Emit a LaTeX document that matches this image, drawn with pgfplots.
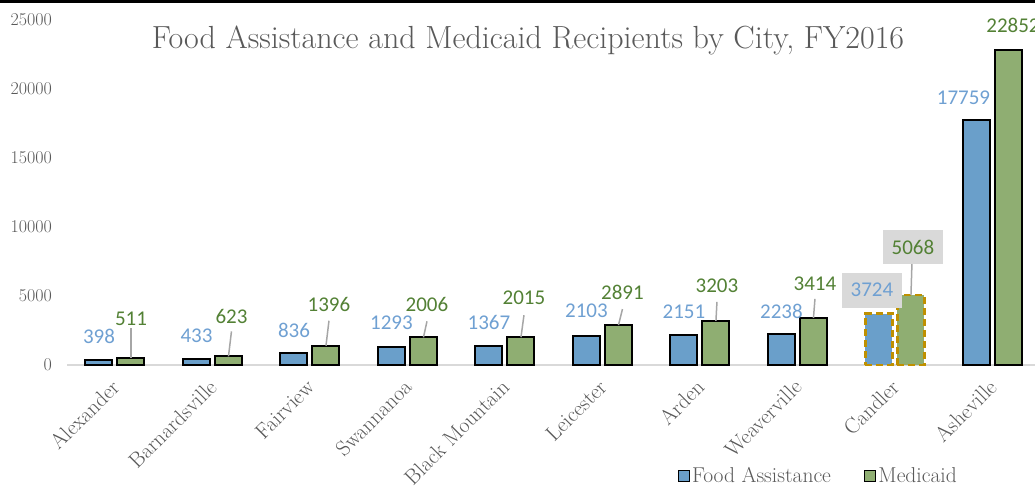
\documentclass[border=0pt]{standalone}
\usepackage{fontspec}
\usepackage{pgfplots}
\pgfplotsset{compat=1.18}
\newfontfamily\labfont{Carlito}

\definecolor{barblue}{HTML}{6A9FCA}
\definecolor{bargreen}{HTML}{8FAE72}
\definecolor{txtblue}{HTML}{6FA0D2}
\definecolor{txtgreen}{HTML}{538135}
\definecolor{txtgray}{HTML}{595959}
\definecolor{gold}{HTML}{BF9000}
\definecolor{boxgray}{HTML}{D9D9D9}
\definecolor{leader}{HTML}{A6A6A6}

% blue label: x, value, dx, dy (dy = label centre above bar top)
\newcommand{\blab}[4]{\node[text=txtblue, font=\labfont\fontsize{21}{21}\selectfont, xshift=-16pt+#3pt, yshift=#4pt] at (axis cs:#1,#2) {#2};}
% green label with leader: x, value, dx, dy, leader length
\newcommand{\glab}[5]{%
  \node[text=txtgreen, font=\labfont\fontsize{21}{21}\selectfont, xshift=16pt+#3pt, yshift=#4pt] at (axis cs:#1,#2) {#2};
  \draw[leader, line width=1.5pt] ([xshift=16pt]axis cs:#1,#2) -- ([xshift=16pt+#3pt, yshift=#5pt]axis cs:#1,#2);}
% category label, rotated
\newcommand{\cat}[2]{\node[rotate=45, anchor=east, inner sep=0pt, text=txtgray, font=\fontsize{21.5}{21.5}\selectfont] at ([xshift=0.5pt, yshift=-18.5pt]axis cs:#1,0) {#2};}

\begin{document}
\begin{tikzpicture}
\useasboundingbox (0,0) rectangle (1035pt,487pt);
\clip (0,0) rectangle (1035pt,487pt);
\begin{axis}[
    at={(67.2pt,122pt)}, anchor=south west,
    scale only axis, width=974pt, height=345pt,
    xmin=-0.49, xmax=9.5, ymin=0, ymax=25000,
    clip=false,
    axis x line*=bottom, axis y line*=left,
    axis line style={-},
    x axis line style={draw=gray!30, line width=2pt},
    y axis line style={draw=none},
    major tick length=0pt,
    scaled y ticks=false,
    xtick=\empty,
    ytick={0,5000,10000,15000,20000,25000},
    yticklabels={0,5000,10000,15000,20000,25000},
    yticklabel style={font=\fontsize{18}{18}\selectfont, text=txtgray, anchor=east, inner sep=0pt, xshift=-15pt},
    ybar, bar width=27pt,
    legend columns=2,
    legend style={at={(0.771,-0.322)}, anchor=center, draw=none, fill=none,
        font=\fontsize{21.5}{21.5}\selectfont, text=txtgray,
        /tikz/every odd column/.append style={column sep=0pt},
        /tikz/every even column/.append style={column sep=31pt}},
    legend image code/.code={\draw[#1, draw=black, line width=1.5pt, solid] (0pt,-5.5pt) rectangle (11pt,5.5pt);},
]
\addplot[bar shift=-16pt, fill=barblue, draw=black, line width=2pt] coordinates {
    (0,398) (1,433) (2,836) (3,1293) (4,1367) (5,2103) (6,2151) (7,2238) (9,17759)};
\addplot[bar shift=16pt, fill=bargreen, draw=black, line width=2pt] coordinates {
    (0,511) (1,623) (2,1396) (3,2006) (4,2015) (5,2891) (6,3203) (7,3414) (9,22852)};
\addplot[forget plot, bar shift=-16pt, fill=barblue, draw=gold, line width=2.5pt, dash pattern=on 7pt off 4pt] coordinates {(8,3724)};
\addplot[forget plot, bar shift=16pt, fill=bargreen, draw=gold, line width=2.5pt, dash pattern=on 7pt off 4pt] coordinates {(8,5068)};
\legend{Food Assistance, Medicaid}

\cat{0}{Alexander}
\cat{1}{Barnardsville}
\cat{2}{Fairview}
\cat{3}{Swannanoa}
\cat{4}{Black Mountain}
\cat{5}{Leicester}
\cat{6}{Arden}
\cat{7}{Weaverville}
\cat{8}{Candler}
\cat{9}{Asheville}

\blab{0}{398}{0}{23.5}
\blab{1}{433}{0}{23}
\blab{2}{836}{0}{23.5}
\blab{3}{1293}{0}{24}
\blab{4}{1367}{0}{23.5}
\blab{5}{2103}{0}{25}
\blab{6}{2151}{0}{24}
\blab{7}{2238}{0}{23}
\blab{9}{17759}{-13}{22.5}

\glab{0}{511}{0}{39}{30}
\glab{1}{623}{3}{40.4}{25}
\glab{2}{1396}{3}{41.7}{25}
\glab{3}{2006}{3.5}{33}{16}
\glab{4}{2015}{3}{39}{22}
\glab{5}{2891}{4}{33}{16}
\glab{6}{3203}{1}{35}{19}
\glab{7}{3414}{1.5}{34}{19}
\node[text=txtgreen, font=\labfont\fontsize{21}{21}\selectfont, xshift=20.5pt, yshift=24pt] at (axis cs:9,22852) {22852};

% Candler, highlighted labels
\draw[leader, line width=1.5pt] ([xshift=16pt]axis cs:8,5068) -- ([xshift=17pt, yshift=32pt]axis cs:8,5068);
\node[fill=boxgray, text=txtgreen, font=\labfont\fontsize{21}{21}\selectfont, minimum width=60pt, minimum height=34pt, xshift=18pt, yshift=48pt] at (axis cs:8,5068) {5068};
\node[fill=boxgray, text=txtblue, font=\labfont\fontsize{21}{21}\selectfont, minimum width=60pt, minimum height=35pt, xshift=-23pt, yshift=23.6pt] at (axis cs:8,3724) {3724};
\end{axis}
\node[text=txtgray, font=\fontsize{32}{32}\selectfont] at (528pt,447pt) {Food Assistance and Medicaid Recipients by City, FY2016};
\fill[black] (0,484pt) rectangle (1035pt,487pt);
\end{tikzpicture}
\end{document}
